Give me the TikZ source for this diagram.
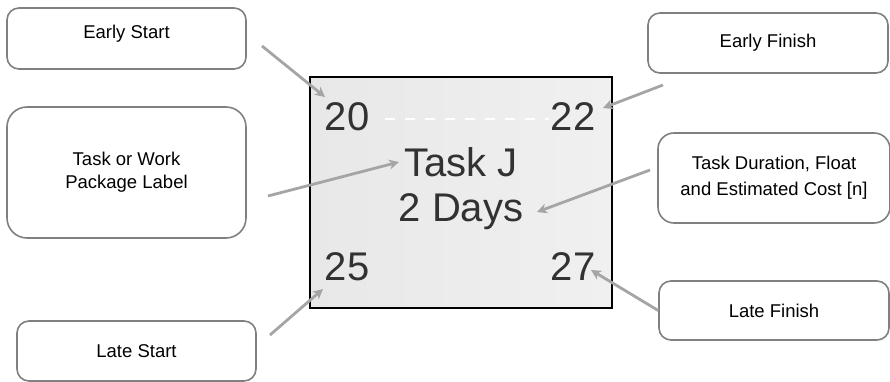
\documentclass[tikz,border=0pt]{standalone}
\usepackage{fontspec}
\setmainfont{Liberation Sans}
\usepackage{tikz}
\usetikzlibrary{arrows.meta}

\definecolor{boxgray}{RGB}{128,128,128}
\definecolor{arrowgray}{RGB}{165,165,165}
\definecolor{numgray}{RGB}{50,50,50}
\definecolor{panelleft}{RGB}{232,232,232}
\definecolor{panelright}{RGB}{240,240,240}

\begin{document}
\begin{tikzpicture}[x=1pt, y=-1pt,
    callout/.style = {draw=boxgray, line width=1.6pt, rounded corners=12pt, fill=white, align=center, font=\fontsize{18.5}{23}\selectfont, inner sep=0pt},
    big/.style = {text=numgray, font=\fontsize{40}{44}\selectfont, inner sep=0pt},
    pointer/.style = {draw=arrowgray, line width=2.8pt, -{Stealth[length=10pt, width=10pt, inset=3pt]}}]

    \useasboundingbox (0,0) rectangle (890,382);

    % activity box
    \node[draw=black, line width=1.8pt, left color=panelleft, right color=panelright, minimum width=302pt, minimum height=231pt, inner sep=0pt] (task) at (461,192.5) {};
    \draw[white, line width=1.6pt, dash pattern=on 10pt off 10pt] (385,119) -- (549,119);

    \node[big] (es) at (347,117) {20};
    \node[big] (ef) at (573,117) {22};
    \node[big] (ls) at (347,267) {25};
    \node[big] (lf) at (573,267) {27};
    \node[big] (name) at (461,162) {Task J};
    \node[big] (dur) at (461,212) {2 Days};

    % callouts
    \node[callout, minimum width=239pt, minimum height=61pt] (esbox) at (126.5,38.5) {\raisebox{13pt}{Early Start}};
    \node[callout, rounded corners=20pt, minimum width=239pt, minimum height=131pt] (namebox) at (126.5,172.5) {Task or Work\\Package Label};
    \node[callout, minimum width=239pt, minimum height=60pt] (lsbox) at (136.5,351) {Late Start};
    \node[callout, minimum width=240pt, minimum height=60pt] (efbox) at (768,43) {Early Finish};
    \node[callout, rounded corners=16pt, minimum width=232pt, minimum height=90pt, font=\fontsize{18.5}{26}\selectfont] (durbox) at (774,178) {Task Duration, Float\\and Estimated Cost [n]};
    \node[callout, minimum width=230pt, minimum height=59pt] (lfbox) at (774,310.5) {Late Finish};

    % arrow ends
    \coordinate (es-from) at (262,46);
    \coordinate (es-to) at (325,97);
    \coordinate (ef-from) at (663,85);
    \coordinate (ef-to) at (603,108);
    \coordinate (name-from) at (268,196);
    \coordinate (name-to) at (399,162);
    \coordinate (dur-from) at (650,170);
    \coordinate (dur-to) at (537,212);
    \coordinate (ls-from) at (270,335);
    \coordinate (ls-to) at (323,289);
    \coordinate (lf-to) at (591,270);

    \draw[pointer] (es-from) -- (es-to);
    \draw[pointer] (ef-from) -- (ef-to);
    \draw[pointer] (name-from) -- (name-to);
    \draw[pointer] (dur-from) -- (dur-to);
    \draw[pointer] (ls-from) -- (ls-to);
    \draw[pointer] (lfbox.west) -- (lf-to);

\end{tikzpicture}
\end{document}
